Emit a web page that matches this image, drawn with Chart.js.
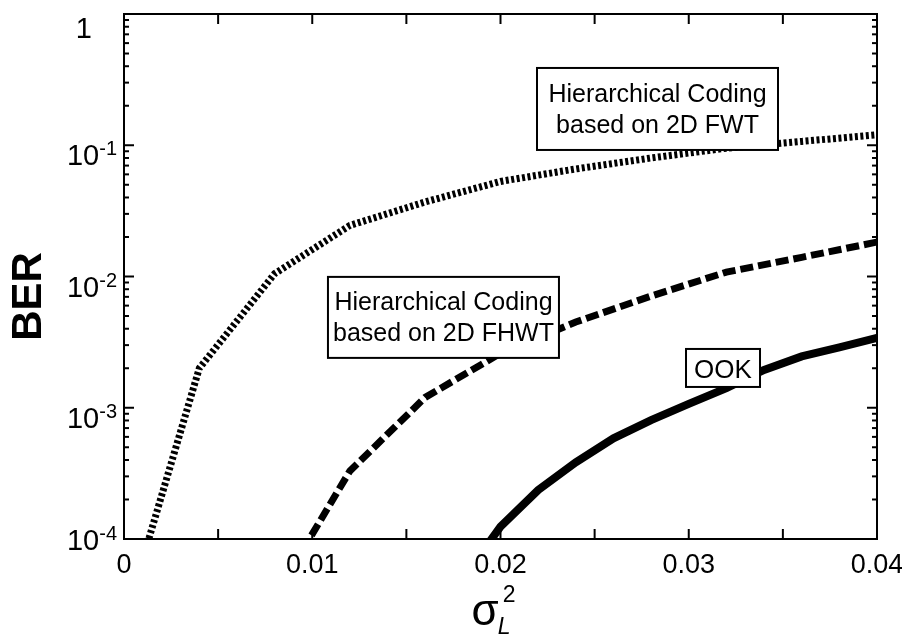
<!DOCTYPE html>
<html>
<head>
<meta charset="utf-8">
<script src="https://cdn.jsdelivr.net/npm/chart.js@4.4.0/dist/chart.umd.min.js"></script>
<style>
  html, body { margin: 0; padding: 0; background: #fff; }
  #wrap { width: 902px; height: 636px; position: relative; }
</style>
</head>
<body>
<div id="wrap"><canvas id="ber-chart"></canvas></div>
<script>
// values (BER vs sigma_L^2)
const fwtX = [0, 0.004, 0.008, 0.012, 0.016, 0.020, 0.024, 0.028, 0.032, 0.036, 0.040];
const fwtBer = [2.3e-5, 2.0e-3, 1.05e-2, 2.45e-2, 3.7e-2, 5.3e-2, 6.6e-2, 8.0e-2, 9.5e-2, 1.07e-1, 1.2e-1];

const fhwtX = [0.008, 0.012, 0.016, 0.020, 0.024, 0.028, 0.032, 0.036, 0.040];
const fhwtBer = [3.6e-5, 3.3e-4, 1.2e-3, 2.6e-3, 4.5e-3, 7.1e-3, 1.08e-2, 1.4e-2, 1.83e-2];

const ookX = [0.018, 0.020, 0.022, 0.024, 0.026, 0.028, 0.030, 0.032, 0.034, 0.036, 0.038, 0.040];
const ookBer = [5e-5, 1.24e-4, 2.36e-4, 3.84e-4, 5.85e-4, 8.05e-4, 1.07e-3, 1.41e-3, 1.94e-3, 2.46e-3, 2.88e-3, 3.4e-3];

const xTickValues = [0, 0.01, 0.02, 0.03, 0.04];
const xTickLabels = ['0', '0.01', '0.02', '0.03', '0.04'];
const xMinorStep = 0.005;
const yExponents = [0, -1, -2, -3, -4];

// text boxes, anchored at data coordinates (box centre)
const boxLabels = [
  { lines: ['Hierarchical Coding', 'based on 2D FWT'], x: 0.02834, y: 0.189, w: 241, h: 82 },
  { lines: ['Hierarchical Coding', 'based on 2D FHWT'], x: 0.01697, y: 4.88e-3, w: 231, h: 81 },
  { lines: ['OOK'], x: 0.03182, y: 2.01e-3, w: 74, h: 38 }
];

const FONT = '"Liberation Sans", Arial, sans-serif';

function toPoints(xs, ys) {
  return xs.map((x, i) => ({ x: x, y: ys[i] }));
}

function seg(ctx, x1, y1, x2, y2) {
  ctx.beginPath();
  ctx.moveTo(x1, y1);
  ctx.lineTo(x2, y2);
  ctx.stroke();
}

const decorPlugin = {
  id: 'decor',
  afterDatasetsDraw(chart) {
    const ctx = chart.ctx;
    const a = chart.chartArea;
    const xs = chart.scales.x;
    const ys = chart.scales.y;
    ctx.save();

    // annotation boxes
    boxLabels.forEach(b => {
      const cx = xs.getPixelForValue(b.x);
      const cy = ys.getPixelForValue(b.y);
      ctx.fillStyle = '#fff';
      ctx.fillRect(cx - b.w / 2, cy - b.h / 2, b.w, b.h);
      ctx.strokeStyle = '#000';
      ctx.lineWidth = 2;
      ctx.strokeRect(cx - b.w / 2, cy - b.h / 2, b.w, b.h);
      ctx.fillStyle = '#000';
      ctx.font = '25px ' + FONT;
      ctx.textAlign = 'center';
      ctx.textBaseline = 'alphabetic';
      if (b.lines.length === 1) {
        ctx.font = '26px ' + FONT;
        ctx.fillText(b.lines[0], cx, cy + 10);
      } else {
        ctx.fillText(b.lines[0], cx, cy - 7);
        ctx.fillText(b.lines[1], cx, cy + 24);
      }
    });

    // frame
    ctx.strokeStyle = '#000';
    ctx.lineWidth = 2;
    ctx.strokeRect(a.left, a.top, a.right - a.left, a.bottom - a.top);

    // x ticks (inward, top and bottom)
    for (let v = xMinorStep; v < 0.04 - 1e-9; v += xMinorStep) {
      const px = xs.getPixelForValue(v);
      seg(ctx, px, a.bottom, px, a.bottom - 10);
      seg(ctx, px, a.top, px, a.top + 10);
    }

    // y ticks (log, inward, left and right)
    yExponents.forEach(e => {
      const py = ys.getPixelForValue(Math.pow(10, e));
      seg(ctx, a.left, py, a.left + 10, py);
      seg(ctx, a.right, py, a.right - 10, py);
      if (e < 0) {
        for (let m = 2; m <= 9; m++) {
          const pm = ys.getPixelForValue(m * Math.pow(10, e));
          seg(ctx, a.left, pm, a.left + 5, pm);
          seg(ctx, a.right, pm, a.right - 5, pm);
        }
      }
    });

    // x tick labels
    ctx.fillStyle = '#000';
    ctx.font = '27px ' + FONT;
    ctx.textAlign = 'center';
    ctx.textBaseline = 'alphabetic';
    xTickValues.forEach((v, i) => {
      ctx.fillText(xTickLabels[i], xs.getPixelForValue(v), a.bottom + 34);
    });

    // y tick labels with superscript exponents
    const rightEdge = a.left - 7;
    yExponents.forEach(e => {
      const py = ys.getPixelForValue(Math.pow(10, e));
      if (e === 0) {
        ctx.font = '29px ' + FONT;
        ctx.textAlign = 'right';
        ctx.fillText('1', a.left - 32, py + 24);
        return;
      }
      const base = Math.min(py + 20, a.bottom + 11);
      const sup = String(e);
      ctx.font = '20px ' + FONT;
      ctx.textAlign = 'right';
      ctx.fillText(sup, rightEdge, base - 10);
      const sw = ctx.measureText(sup).width;
      ctx.font = '29px ' + FONT;
      ctx.fillText('10', rightEdge - sw, base);
    });

    // axis titles
    ctx.save();
    ctx.translate(41, (a.top + a.bottom) / 2 + 20);
    ctx.rotate(-Math.PI / 2);
    ctx.font = 'bold 42px ' + FONT;
    ctx.textAlign = 'center';
    ctx.textBaseline = 'alphabetic';
    ctx.fillText('BER', 0, 0);
    ctx.restore();

    const tx = (a.left + a.right) / 2;
    ctx.textAlign = 'left';
    ctx.font = '44px ' + FONT;
    ctx.fillText('σ', tx - 29, 625);
    const sgw = ctx.measureText('σ').width;
    ctx.font = 'italic 23px ' + FONT;
    ctx.fillText('L', tx - 29 + sgw - 1, 634);
    ctx.font = '23px ' + FONT;
    ctx.fillText('2', tx - 29 + sgw + 4, 602);

    ctx.restore();
  }
};

const chart = new Chart(document.getElementById('ber-chart'), {
  type: 'line',
  data: {
    datasets: [
      {
        label: 'Hierarchical Coding based on 2D FWT',
        data: toPoints(fwtX, fwtBer),
        borderColor: '#000',
        borderWidth: 7,
        borderDash: [3, 2.5],
        borderCapStyle: 'butt',
        pointRadius: 0,
        tension: 0,
        fill: false
      },
      {
        label: 'Hierarchical Coding based on 2D FHWT',
        data: toPoints(fhwtX, fhwtBer),
        borderColor: '#000',
        borderWidth: 7,
        borderDash: [13, 5],
        borderCapStyle: 'butt',
        pointRadius: 0,
        tension: 0,
        fill: false
      },
      {
        label: 'OOK',
        data: toPoints(ookX, ookBer),
        borderColor: '#000',
        borderWidth: 8,
        pointRadius: 0,
        tension: 0,
        fill: false
      }
    ]
  },
  options: {
    responsive: true,
    maintainAspectRatio: false,
    animation: false,
    events: [],
    layout: { padding: { top: 14, right: 25, left: 0, bottom: 0 } },
    plugins: {
      legend: { display: false },
      tooltip: { enabled: false }
    },
    scales: {
      x: {
        type: 'linear',
        min: 0,
        max: 0.04,
        grid: { display: false },
        border: { display: false },
        ticks: { display: false },
        afterFit: s => { s.height = 97; }
      },
      y: {
        type: 'logarithmic',
        min: 1e-4,
        max: 1,
        grid: { display: false },
        border: { display: false },
        ticks: { display: false },
        afterFit: s => { s.width = 124; }
      }
    }
  },
  plugins: [decorPlugin]
});
</script>
</body>
</html>
